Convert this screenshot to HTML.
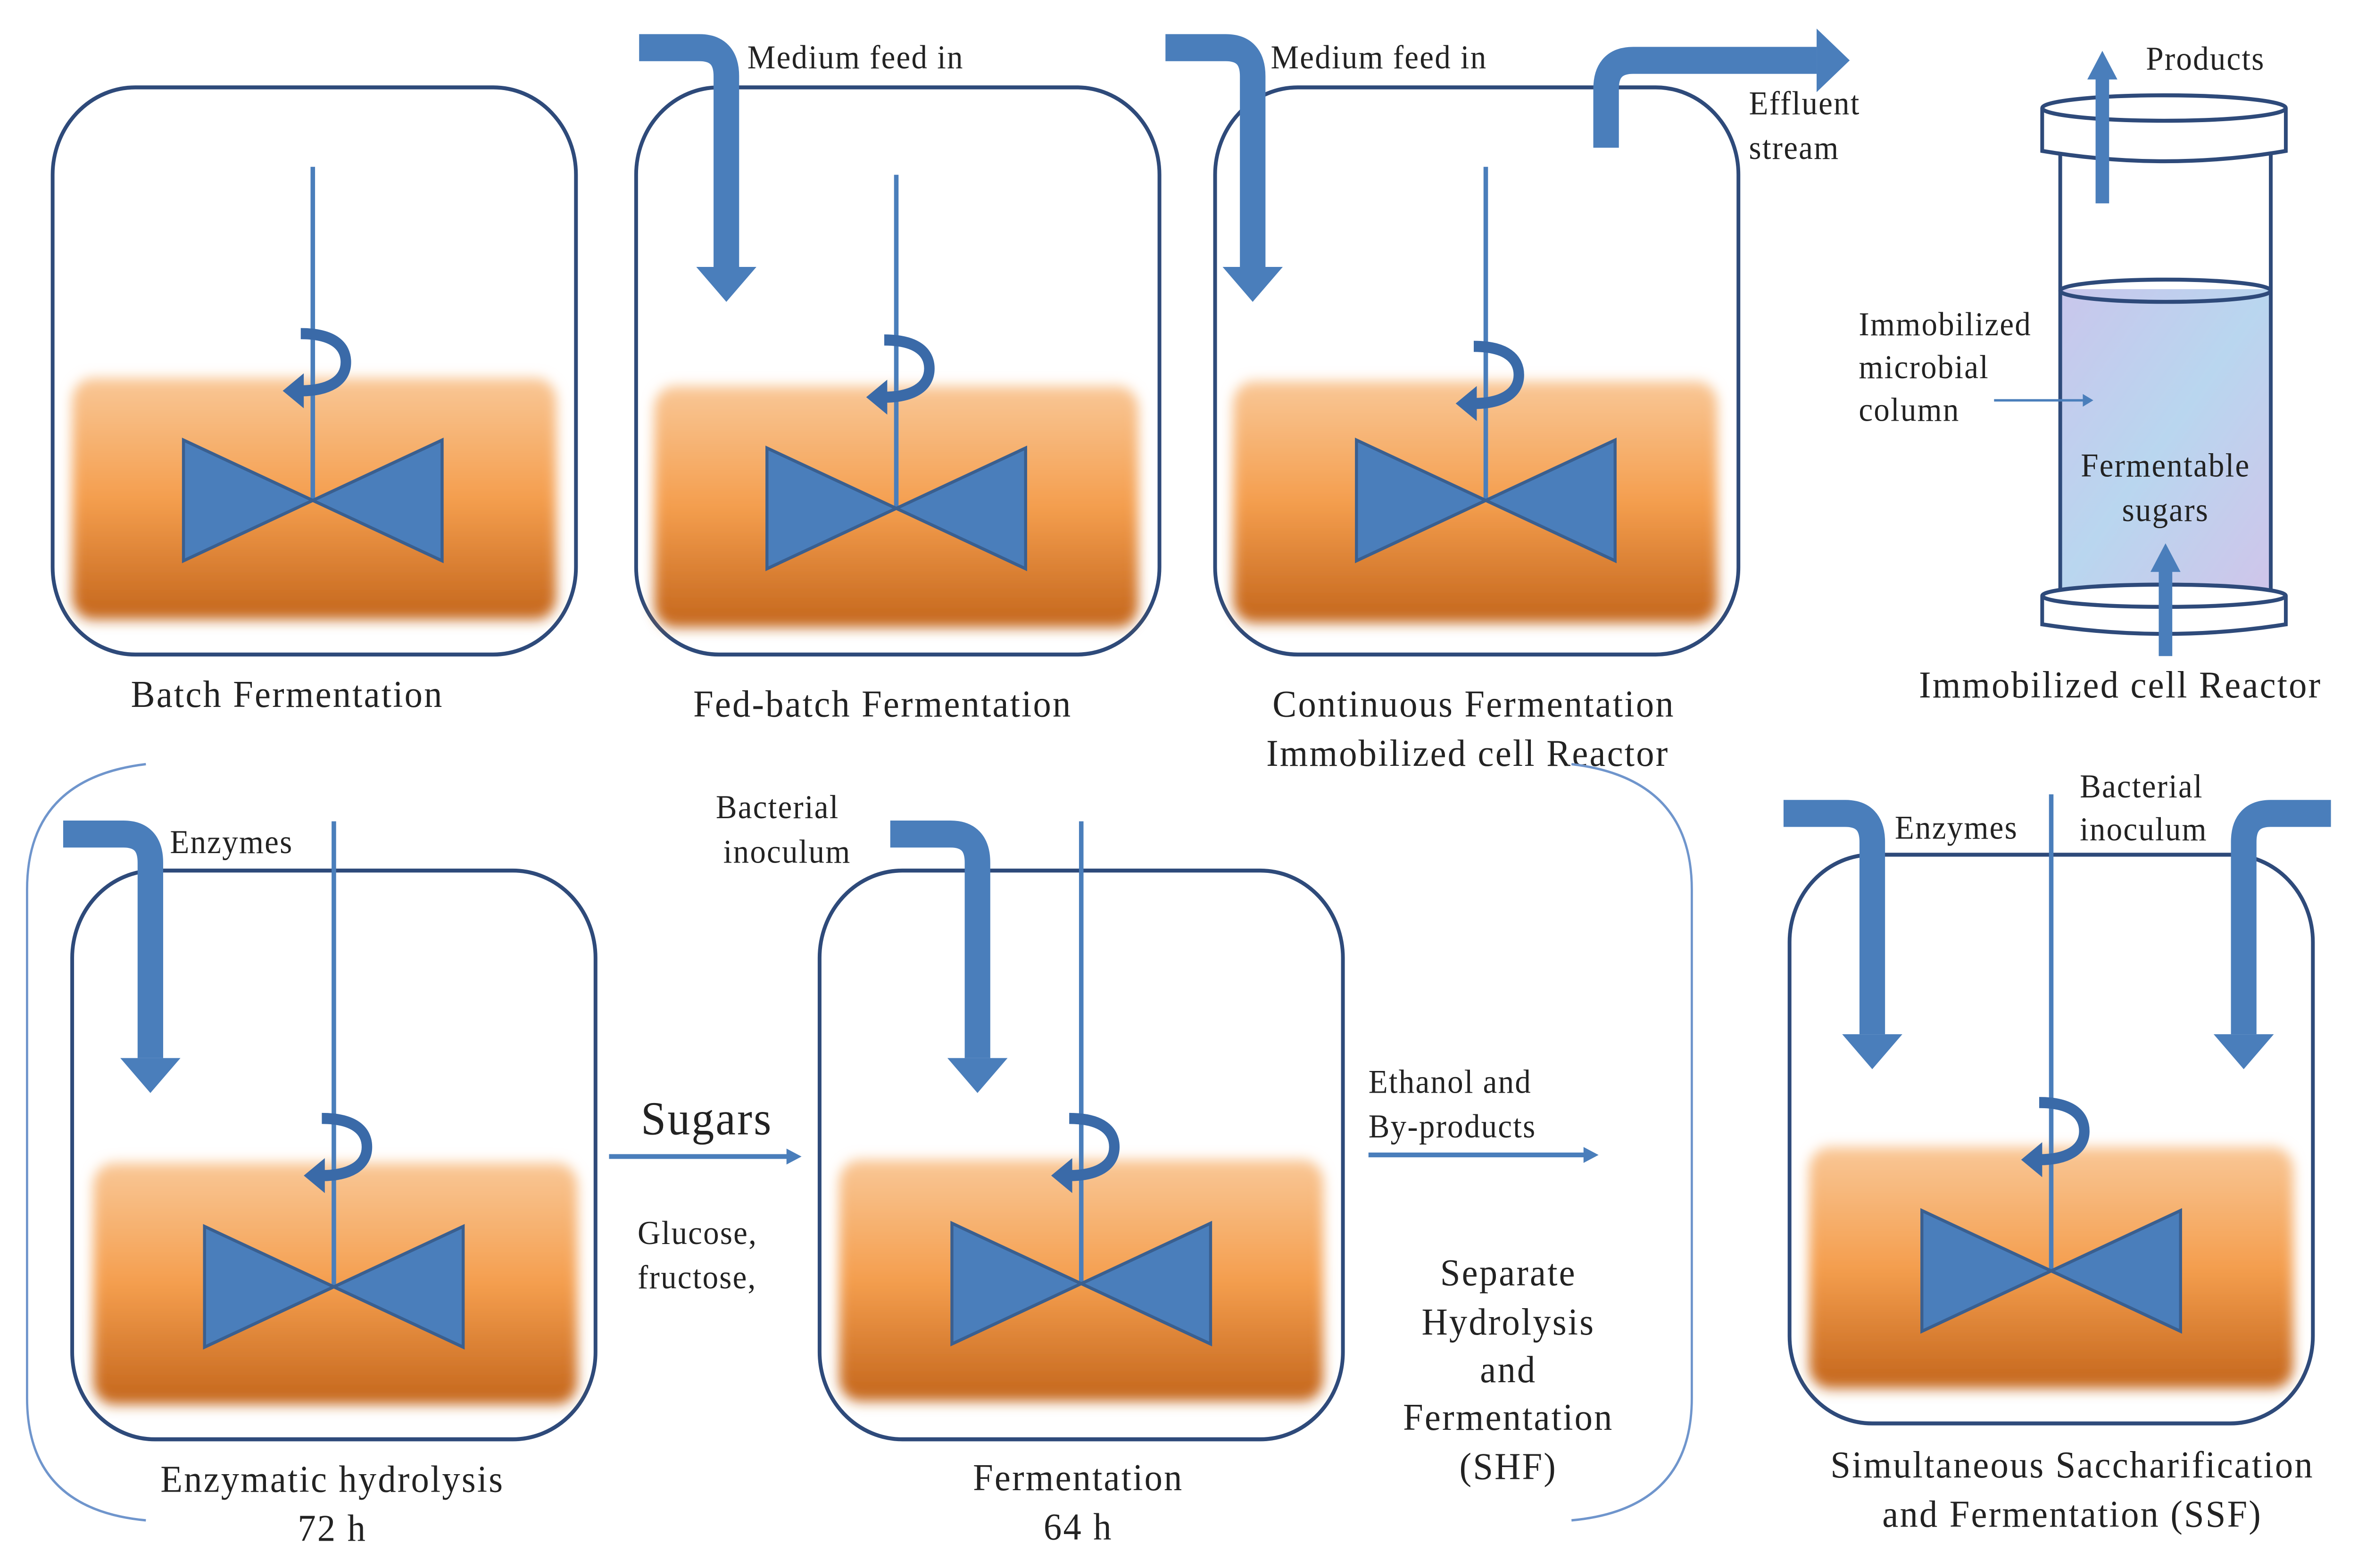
<!DOCTYPE html>
<html><head><meta charset="utf-8"><style>html,body{margin:0;padding:0;background:#fff;width:100%;height:100%;overflow:hidden}svg{display:block;position:absolute;left:0;top:0;width:100vw;height:100vh}.s{letter-spacing:0.7px}.l{letter-spacing:1px}</style></head>
<body>
<svg viewBox="0 0 1568 987" preserveAspectRatio="none" xmlns="http://www.w3.org/2000/svg" font-family="Liberation Serif, serif" fill="#222">
<defs>
<linearGradient id="liq" x1="0" y1="0" x2="0" y2="1">
<stop offset="0" stop-color="#f9c796"/><stop offset="0.5" stop-color="#f49e4e"/><stop offset="1" stop-color="#c4661c"/>
</linearGradient>
<linearGradient id="col" x1="0" y1="0" x2="1" y2="1">
<stop offset="0" stop-color="#c9c6ec"/><stop offset="0.5" stop-color="#b9d6ef"/><stop offset="1" stop-color="#cfc5ea"/>
</linearGradient>
<filter id="bl" x="-10%" y="-10%" width="120%" height="120%"><feGaussianBlur stdDeviation="4"/></filter>
<g id="imp">
<polygon points="-86,-38 -86,38 0,0" fill="#4a7ebb" stroke="#3a5f8f" stroke-width="2"/>
<polygon points="86,-38 86,38 0,0" fill="#4a7ebb" stroke="#3a5f8f" stroke-width="2"/>
</g>
<g id="rot">
<path d="M-8,-22 C14,-22 22,-14 22,-4 C22,8 10,14 -8,14" fill="none" stroke="#3a6aa8" stroke-width="7"/>
<polygon points="-20,14 -6,3 -6,25" fill="#3a6aa8"/>
</g>
</defs>

<!-- Batch -->
<rect x="35" y="55" width="348" height="357" rx="55" fill="none" stroke="#2e4a7a" stroke-width="2.5"/>
<rect x="48" y="238" width="322" height="152" rx="14" fill="url(#liq)" filter="url(#bl)"/>
<line x1="208" y1="105" x2="208" y2="315" stroke="#4a7ebb" stroke-width="3"/>
<use href="#imp" x="208" y="315"/><use href="#rot" x="208" y="232"/>
<text class="l" x="191" y="445" font-size="24" text-anchor="middle">Batch Fermentation</text>

<!-- Fed-batch -->
<rect x="423" y="55" width="348" height="357" rx="55" fill="none" stroke="#2e4a7a" stroke-width="2.5"/>
<rect x="435" y="243" width="322" height="152" rx="14" fill="url(#liq)" filter="url(#bl)"/>
<line x1="596" y1="110" x2="596" y2="320" stroke="#4a7ebb" stroke-width="3"/>
<use href="#imp" x="596" y="320"/><use href="#rot" x="596" y="236"/>
<path d="M425,30 L465,30 Q483,30 483,48 L483,168" fill="none" stroke="#4a7ebb" stroke-width="17"/>
<polygon points="463,168 503,168 483,190" fill="#4a7ebb"/>
<text class="s" x="497" y="43" font-size="21">Medium feed in</text>
<text class="l" x="587" y="451" font-size="24" text-anchor="middle">Fed-batch Fermentation</text>

<!-- Continuous -->
<rect x="808" y="55" width="348" height="357" rx="55" fill="none" stroke="#2e4a7a" stroke-width="2.5"/>
<rect x="820" y="240" width="322" height="152" rx="14" fill="url(#liq)" filter="url(#bl)"/>
<line x1="988" y1="105" x2="988" y2="315" stroke="#4a7ebb" stroke-width="3"/>
<use href="#imp" x="988" y="315"/><use href="#rot" x="988" y="240"/>
<path d="M775,30 L815,30 Q833,30 833,48 L833,168" fill="none" stroke="#4a7ebb" stroke-width="17"/>
<polygon points="813,168 853,168 833,190" fill="#4a7ebb"/>
<path d="M1068,93 L1068,56 Q1068,38 1086,38 L1208,38" fill="none" stroke="#4a7ebb" stroke-width="17"/>
<polygon points="1208,18 1208,58 1230,38" fill="#4a7ebb"/>
<text class="s" x="845" y="43" font-size="21">Medium feed in</text>
<text class="s" x="1163" y="72" font-size="21">Effluent</text>
<text class="s" x="1163" y="100" font-size="21">stream</text>
<text class="l" x="980" y="451" font-size="24" text-anchor="middle">Continuous Fermentation</text>
<text class="l" x="976" y="482" font-size="24" text-anchor="middle">Immobilized  cell Reactor</text>

<!-- Column -->
<rect x="1370" y="182" width="140" height="188" fill="url(#col)"/>
<ellipse cx="1440" cy="183" rx="70" ry="7" fill="none" stroke="#2e4a7a" stroke-width="2.5"/>
<line x1="1370" y1="95" x2="1370" y2="372" stroke="#2e4a7a" stroke-width="2.5"/>
<line x1="1510" y1="95" x2="1510" y2="372" stroke="#2e4a7a" stroke-width="2.5"/>
<path d="M1358,68 L1358,95 Q1440,108 1520,95 L1520,68" fill="#fff" stroke="#2e4a7a" stroke-width="2.5"/>
<ellipse cx="1439" cy="68" rx="81" ry="8" fill="#fff" stroke="#2e4a7a" stroke-width="2.5"/>
<path d="M1358,375 L1358,393 Q1440,405 1520,393 L1520,375" fill="#fff" stroke="#2e4a7a" stroke-width="2.5"/>
<ellipse cx="1439" cy="375" rx="81" ry="7" fill="#fff" stroke="#2e4a7a" stroke-width="2.5"/>
<line x1="1398" y1="128" x2="1398" y2="48" stroke="#4a7ebb" stroke-width="9"/>
<polygon points="1388,50 1408,50 1398,32" fill="#4a7ebb"/>
<line x1="1440" y1="413" x2="1440" y2="358" stroke="#4a7ebb" stroke-width="9"/>
<polygon points="1430,360 1450,360 1440,342" fill="#4a7ebb"/>
<line x1="1326" y1="252" x2="1385" y2="252" stroke="#4a7ebb" stroke-width="1.5"/>
<polygon points="1385,248 1392,252 1385,256" fill="#4a7ebb"/>
<text class="s" x="1427" y="44" font-size="21">Products</text>
<text class="s" x="1236" y="211" font-size="21">Immobilized</text>
<text class="s" x="1236" y="238" font-size="21">microbial</text>
<text class="s" x="1236" y="265" font-size="21">column</text>
<text class="s" x="1440" y="300" font-size="21" text-anchor="middle">Fermentable</text>
<text class="s" x="1440" y="328" font-size="21" text-anchor="middle">sugars</text>
<text class="l" x="1410" y="439" font-size="24" text-anchor="middle">Immobilized  cell Reactor</text>

<!-- Brackets -->
<path d="M97,481 Q18,490 18,560 L18,880 Q18,950 97,957" fill="none" stroke="#6f95cc" stroke-width="1.5"/>
<path d="M1045,481 Q1125,490 1125,560 L1125,880 Q1125,950 1045,957" fill="none" stroke="#6f95cc" stroke-width="1.5"/>

<!-- Enzymatic -->
<rect x="48" y="548" width="348" height="358" rx="55" fill="none" stroke="#2e4a7a" stroke-width="2.5"/>
<rect x="62" y="732" width="322" height="152" rx="14" fill="url(#liq)" filter="url(#bl)"/>
<line x1="222" y1="517" x2="222" y2="810" stroke="#4a7ebb" stroke-width="3"/>
<use href="#imp" x="222" y="810"/><use href="#rot" x="222" y="726"/>
<path d="M42,525 L82,525 Q100,525 100,543 L100,666" fill="none" stroke="#4a7ebb" stroke-width="17"/>
<polygon points="80,666 120,666 100,688" fill="#4a7ebb"/>
<text class="s" x="113" y="537" font-size="21">Enzymes</text>
<text class="l" x="221" y="939" font-size="24" text-anchor="middle">Enzymatic hydrolysis</text>
<text class="l" x="221" y="970" font-size="24" text-anchor="middle">72 h</text>

<!-- Sugars -->
<line x1="405" y1="728" x2="525" y2="728" stroke="#4a7ebb" stroke-width="3"/>
<polygon points="523,723 533,728 523,733" fill="#4a7ebb"/>
<text class="l" x="470" y="714" font-size="30" text-anchor="middle">Sugars</text>
<text class="s" x="424" y="783" font-size="21">Glucose,</text>
<text class="s" x="424" y="811" font-size="21">fructose,</text>

<!-- Fermentation -->
<rect x="545" y="548" width="348" height="358" rx="55" fill="none" stroke="#2e4a7a" stroke-width="2.5"/>
<rect x="558" y="730" width="322" height="152" rx="14" fill="url(#liq)" filter="url(#bl)"/>
<line x1="719" y1="517" x2="719" y2="808" stroke="#4a7ebb" stroke-width="3"/>
<use href="#imp" x="719" y="808"/><use href="#rot" x="719" y="726"/>
<path d="M592,525 L632,525 Q650,525 650,543 L650,666" fill="none" stroke="#4a7ebb" stroke-width="17"/>
<polygon points="630,666 670,666 650,688" fill="#4a7ebb"/>
<text class="s" x="476" y="515" font-size="21">Bacterial</text>
<text class="s" x="481" y="543" font-size="21">inoculum</text>
<text class="l" x="717" y="938" font-size="24" text-anchor="middle">Fermentation</text>
<text class="l" x="717" y="969" font-size="24" text-anchor="middle">64 h</text>

<!-- Ethanol -->
<line x1="910" y1="727" x2="1055" y2="727" stroke="#4a7ebb" stroke-width="3"/>
<polygon points="1053,722 1063,727 1053,732" fill="#4a7ebb"/>
<text class="s" x="910" y="688" font-size="21">Ethanol and</text>
<text class="s" x="910" y="716" font-size="21">By-products</text>
<text class="l" x="1003" y="809" font-size="24" text-anchor="middle">Separate</text>
<text class="l" x="1003" y="840" font-size="24" text-anchor="middle">Hydrolysis</text>
<text class="l" x="1003" y="870" font-size="24" text-anchor="middle">and</text>
<text class="l" x="1003" y="900" font-size="24" text-anchor="middle">Fermentation</text>
<text class="l" x="1003" y="931" font-size="24" text-anchor="middle">(SHF)</text>

<!-- SSF -->
<rect x="1190" y="538" width="348" height="358" rx="55" fill="none" stroke="#2e4a7a" stroke-width="2.5"/>
<rect x="1203" y="722" width="322" height="152" rx="14" fill="url(#liq)" filter="url(#bl)"/>
<line x1="1364" y1="500" x2="1364" y2="800" stroke="#4a7ebb" stroke-width="3"/>
<use href="#imp" x="1364" y="800"/><use href="#rot" x="1364" y="716"/>
<path d="M1186,512 L1227,512 Q1245,512 1245,530 L1245,651" fill="none" stroke="#4a7ebb" stroke-width="17"/>
<polygon points="1225,651 1265,651 1245,673" fill="#4a7ebb"/>
<path d="M1550,512 L1510,512 Q1492,512 1492,530 L1492,651" fill="none" stroke="#4a7ebb" stroke-width="17"/>
<polygon points="1472,651 1512,651 1492,673" fill="#4a7ebb"/>
<text class="s" x="1260" y="528" font-size="21">Enzymes</text>
<text class="s" x="1383" y="502" font-size="21">Bacterial</text>
<text class="s" x="1383" y="529" font-size="21">inoculum</text>
<text class="l" x="1378" y="930" font-size="24" text-anchor="middle">Simultaneous Saccharification</text>
<text class="l" x="1378" y="961" font-size="24" text-anchor="middle">and Fermentation (SSF)</text>
</svg>
</body></html>
